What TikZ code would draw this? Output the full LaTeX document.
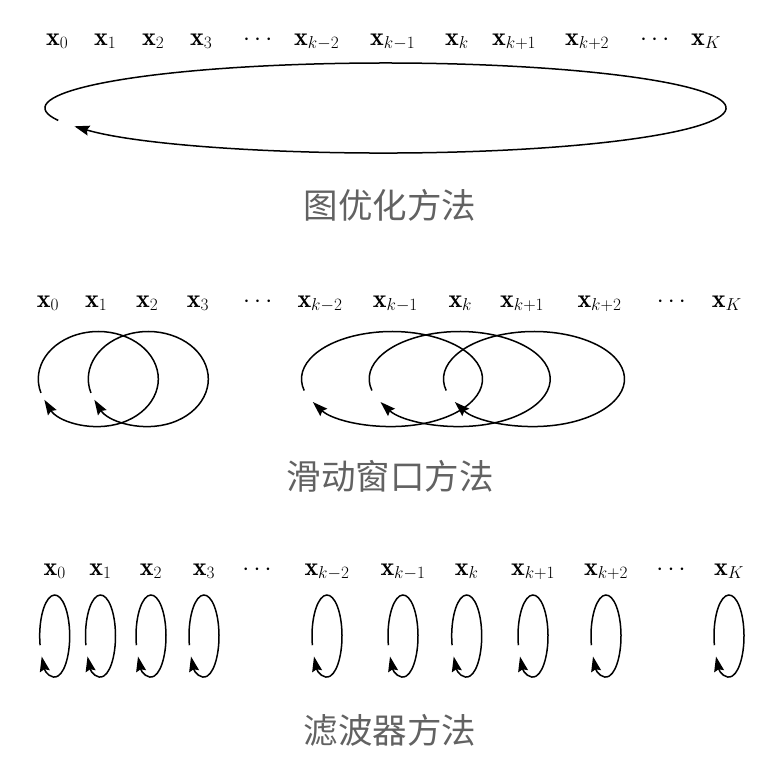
\documentclass[tikz,border=0pt]{standalone}
\usepackage{fontspec}
\newfontfamily\cjk{Noto Sans CJK SC}
\usetikzlibrary{arrows.meta}
\definecolor{titlegray}{RGB}{98,98,98}
\tikzset{
  lbl/.style={inner sep=0pt, anchor=base west, font=\fontsize{26}{30}\selectfont},
  lblc/.style={inner sep=0pt, anchor=base, font=\fontsize{26}{30}\selectfont},
  ttl/.style={inner sep=0pt, text=titlegray, font=\cjk\fontsize{34.5}{38}\selectfont},
  cyc/.style={line width=1.5pt, -{Stealth[length=15pt,width=10pt,inset=2pt]}}
}
\newcommand\cycarc[5]{% name, rx, ry, start, end
  \draw[cyc] ([shift={(#4:#2 and #3)}]#1) arc[start angle=#4, end angle=#5, x radius=#2, y radius=#3];}
\begin{document}
\begin{tikzpicture}[x=1pt,y=1pt]
\useasboundingbox (0,0) rectangle (770,-758);
% ---------- row 1: graph optimisation
\node[lbl] (a0) at (46,-45) {$\mathbf{x}_0$};
\node[lbl] (a1) at (94,-45) {$\mathbf{x}_1$};
\node[lbl] (a2) at (142,-45) {$\mathbf{x}_2$};
\node[lbl] (a3) at (190,-45) {$\mathbf{x}_3$};
\node[lbl] (ad1) at (243,-45) {$\cdots$};
\node[lbl] (a4) at (294,-45) {$\mathbf{x}_{k-2}$};
\node[lbl] (a5) at (370,-45) {$\mathbf{x}_{k-1}$};
\node[lbl] (a6) at (445,-45) {$\mathbf{x}_{k}$};
\node[lbl] (a7) at (492,-45) {$\mathbf{x}_{k+1}$};
\node[lbl] (a8) at (565,-45) {$\mathbf{x}_{k+2}$};
\node[lbl] (ad2) at (640,-45) {$\cdots$};
\node[lbl] (a9) at (691,-45) {$\mathbf{x}_{K}$};
\coordinate (e1) at (385.5,-108);
\cycarc{e1}{340.5}{45}{196}{-156}
\node[ttl] (t1) at (390,-205) {图优化方法};
% ---------- row 2: sliding window
\node[lbl] (b0) at (36.7,-307) {$\mathbf{x}_0$};
\node[lbl] (b1) at (85,-307) {$\mathbf{x}_1$};
\node[lbl] (b2) at (136,-307) {$\mathbf{x}_2$};
\node[lbl] (b3) at (186.7,-307) {$\mathbf{x}_3$};
\node[lbl] (bd1) at (243,-307) {$\cdots$};
\node[lbl] (b4) at (297.3,-307) {$\mathbf{x}_{k-2}$};
\node[lbl] (b5) at (372.7,-307) {$\mathbf{x}_{k-1}$};
\node[lbl] (b6) at (448.3,-307) {$\mathbf{x}_{k}$};
\node[lbl] (b7) at (500,-307) {$\mathbf{x}_{k+1}$};
\node[lbl] (b8) at (577.3,-307) {$\mathbf{x}_{k+2}$};
\node[lbl] (bd2) at (656.7,-307) {$\cdots$};
\node[lbl] (b9) at (711.7,-307) {$\mathbf{x}_{K}$};
\coordinate (s1) at (98.3,-379);
\coordinate (s2) at (148.3,-379);
\coordinate (w1) at (392,-379);
\coordinate (w2) at (459.7,-379);
\coordinate (w3) at (534,-379);
\cycarc{s1}{60}{47.5}{197}{-154}
\cycarc{s2}{60}{47.5}{197}{-154}
\cycarc{w1}{90.5}{47.5}{194}{-151}
\cycarc{w2}{90.5}{47.5}{194}{-151}
\cycarc{w3}{90.5}{47.5}{194}{-151}
\node[ttl] (t2) at (390,-476) {滑动窗口方法};
% ---------- row 3: filter
\foreach \n/\x/\t in {c0/54.7/{\mathbf{x}_0}, c1/100.5/{\mathbf{x}_1}, c2/151/{\mathbf{x}_2}, c3/204/{\mathbf{x}_3},
  c4/327/{\mathbf{x}_{k-2}}, c5/403/{\mathbf{x}_{k-1}}, c6/466.7/{\mathbf{x}_{k}}, c7/533/{\mathbf{x}_{k+1}},
  c8/606/{\mathbf{x}_{k+2}}, c9/729/{\mathbf{x}_{K}}}{
  \node[lblc] (\n) at (\x,-575) {$\t$};
  \coordinate (l\n) at (\x,-636);
  \cycarc{l\n}{15}{41}{193}{-150}
}
\node[lblc] (cd1) at (257,-575) {$\cdots$};
\node[lblc] (cd2) at (671,-575) {$\cdots$};
\node[ttl] (t3) at (390,-730) {滤波器方法};
\end{tikzpicture}
\end{document}
